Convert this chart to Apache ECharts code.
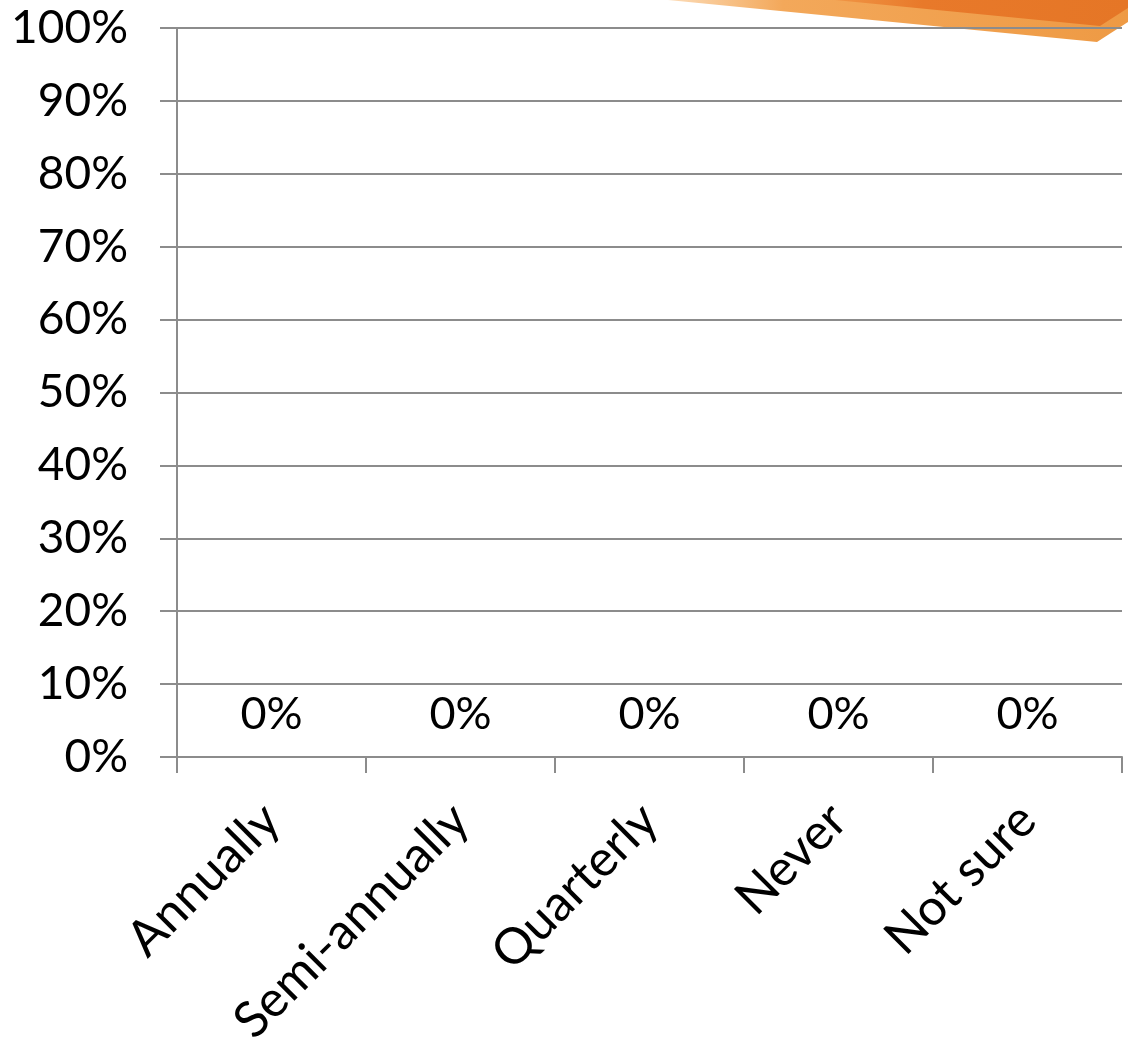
<!DOCTYPE html>
<html>
<head>
<meta charset="utf-8">
<script src="https://cdn.jsdelivr.net/npm/echarts@6/dist/echarts.min.js"></script>
<style>
  html, body { margin: 0; padding: 0; background: #ffffff; }
  #chart { width: 1128px; height: 1041px; }
</style>
</head>
<body>
<div id="chart"></div>
<script>
// Survey answer categories and the share of respondents for each
const categories = ['Annually', 'Semi-annually', 'Quarterly', 'Never', 'Not sure'];
const shares = [0, 0, 0, 0, 0];
const yTicks = [0, 10, 20, 30, 40, 50, 60, 70, 80, 90, 100];

const FONT = 'Lato';
const GRID_COLOR = '#8c8c8c';

const chart = echarts.init(document.getElementById('chart'), null, { renderer: 'canvas' });

chart.setOption({
  animation: false,
  backgroundColor: '#ffffff',
  textStyle: { fontFamily: FONT },
  grid: {
    left: 177, right: 6, top: 28, bottom: 284,
    containLabel: false,
    outerBoundsMode: 'none'
  },
  // Orange swoosh decoration in the top-right corner
  graphic: [
    {
      type: 'polygon', z: -10, silent: true,
      shape: { points: [[668, 0], [1128, 0], [1128, 22], [1097, 42]] },
      style: {
        fill: new echarts.graphic.LinearGradient(0, 0, 1, 0, [
          { offset: 0, color: '#fcdcb8' },
          { offset: 0.25, color: '#f3a85a' },
          { offset: 1, color: '#ee9a44' }
        ])
      }
    },
    {
      type: 'polygon', z: -9, silent: true,
      shape: { points: [[835, 0], [1128, 0], [1128, 8], [1100, 26]] },
      style: {
        fill: new echarts.graphic.LinearGradient(0, 0, 1, 0, [
          { offset: 0, color: '#f09545' },
          { offset: 0.3, color: '#e8792a' },
          { offset: 1, color: '#e57626' }
        ])
      }
    }
  ],
  xAxis: {
    type: 'category',
    data: categories,
    axisLine: { show: true, lineStyle: { color: GRID_COLOR, width: 2 } },
    axisTick: { show: true, alignWithLabel: false, length: 16, lineStyle: { color: GRID_COLOR, width: 2 } },
    axisLabel: {
      rotate: 45,
      interval: 0,
      margin: 55,
      color: '#000000',
      fontFamily: FONT,
      fontSize: 50
    },
    splitLine: { show: false }
  },
  yAxis: {
    type: 'value',
    min: 0,
    max: 100,
    interval: 10,
    axisLine: { show: true, lineStyle: { color: GRID_COLOR, width: 2 } },
    axisTick: { show: true, length: 17, lineStyle: { color: GRID_COLOR, width: 2 } },
    axisLabel: {
      margin: 49,
      color: '#000000',
      fontFamily: FONT,
      fontSize: 46,
      formatter: function (v) { return yTicks.includes(v) ? v + '%' : ''; }
    },
    splitLine: { show: true, lineStyle: { color: GRID_COLOR, width: 2 } }
  },
  series: [
    {
      type: 'bar',
      data: shares,
      barWidth: '60%',
      itemStyle: { color: '#4f81bd' },
      label: {
        show: true,
        position: 'top',
        distance: 20,
        color: '#000000',
        fontFamily: FONT,
        fontSize: 45,
        formatter: '{c}%'
      }
    }
  ]
});
</script>
</body>
</html>
